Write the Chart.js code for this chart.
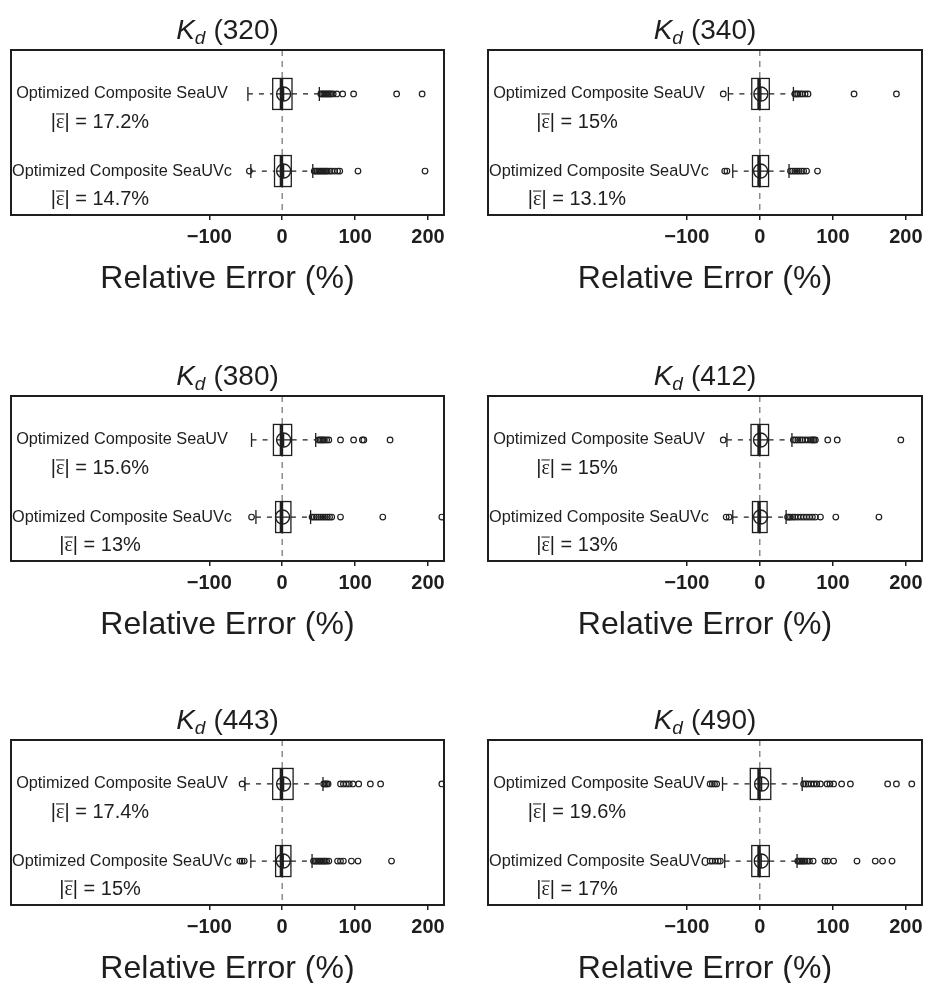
<!DOCTYPE html>
<html>
<head>
<meta charset="utf-8">
<script src="https://cdn.jsdelivr.net/npm/chart.js@4.4.0/dist/chart.umd.min.js"></script>
<style>
  body { margin: 0; background: #fff; width: 925px; height: 983px; position: relative; overflow: hidden; }
  canvas { position: absolute; }
</style>
</head>
<body>
<canvas id="p0"></canvas>
<canvas id="p1"></canvas>
<canvas id="p2"></canvas>
<canvas id="p3"></canvas>
<canvas id="p4"></canvas>
<canvas id="p5"></canvas>
<script>
// values: one entry per panel, [SeaUV, SeaUVc] inside
const wavelengths = ['320', '340', '380', '412', '443', '490'];
const methods = ['Optimized Composite SeaUV', 'Optimized Composite SeaUVc'];
const meanAbsError = [[17.2, 14.7], [15, 13.1], [15.6, 13], [15, 13], [17.4, 15], [19.6, 17]];
const lowerWhisker = [[-47, -43], [-43, -37], [-42, -36], [-45, -37], [-51, -43], [-51, -48]];
const lowerQuartile = [[-13, -10.5], [-11, -10], [-12, -9], [-12, -10], [-13, -9], [-13, -11]];
const medianError = [[-1, -1], [-1, -1], [-1, -1], [-1, -1], [-1, -1], [-1, -1]];
const upperQuartile = [[13.5, 12.5], [13, 12], [13, 12], [12, 10], [15, 12], [15, 13]];
const upperWhisker = [[51, 42], [46, 40], [46, 39], [44, 36], [56, 41], [58, 51]];
const meanError = [[2, 2], [1.5, 1], [2, 0.5], [1, 1], [2, 1.5], [2.5, 2]];
const outliers = [
  [[53, 55, 57, 59, 61, 63, 65, 67, 70, 75, 83, 98, 157, 192],
   [-45, 44, 46, 48, 50, 52, 54, 56, 58, 60, 62, 65, 68, 72, 76, 79, 104, 196]],
  [[-50, 48, 50, 52, 55, 58, 62, 66, 129, 187],
   [-48, -45, 42, 45, 48, 51, 54, 57, 60, 64, 79]],
  [[50, 52, 54, 56, 58, 61, 64, 80, 98, 110, 112, 148],
   [-42, 41, 44, 47, 50, 53, 56, 59, 62, 65, 68, 80, 138, 219]],
  [[-50, 46, 49, 52, 55, 58, 62, 66, 70, 72, 74, 76, 93, 106, 193],
   [-46, -42, 38, 40, 42, 45, 48, 52, 56, 60, 64, 68, 72, 76, 83, 104, 163]],
  [[-55, 57, 59, 61, 63, 80, 84, 88, 92, 97, 105, 121, 135, 219],
   [-58, -55, -52, 43, 45, 47, 49, 51, 53, 55, 57, 59, 61, 64, 76, 80, 84, 95, 104, 150]],
  [[-68, -65, -62, -59, 60, 63, 66, 70, 74, 78, 83, 92, 96, 101, 112, 124, 175, 187, 208],
   [-68, -65, -61, -57, -54, 52, 54, 56, 58, 60, 62, 65, 68, 73, 89, 93, 101, 133, 158, 168, 181]]
];
const xTicks = [-100, 0, 100, 200];
const xRange = [-372, 222];
const rowY = [2, 1]; // SeaUV on top, SeaUVc below

const SANS = "'Liberation Sans', Arial, Helvetica, sans-serif";
const SERIF = "'Liberation Serif', 'DejaVu Serif', serif";
const ink = '#1e1e1e';
const boxHalf = 15.5;

Chart.defaults.font.family = SANS;
Chart.defaults.color = ink;

// box, median, zero line, frame and the text drawn inside each panel
const boxPlot = {
  id: 'boxPlot',
  beforeDatasetsDraw(chart, args, opts) {
    const { ctx, chartArea: a, scales: { x, y } } = chart;
    const p = opts.panel;
    ctx.save();
    const x0 = x.getPixelForValue(0);
    ctx.strokeStyle = '#6e6e6e';
    ctx.lineWidth = 1.2;
    ctx.setLineDash([6, 5]);
    ctx.beginPath(); ctx.moveTo(x0, a.top); ctx.lineTo(x0, a.bottom); ctx.stroke();
    ctx.setLineDash([]);
    ctx.strokeStyle = ink;
    rowY.forEach((rv, m) => {
      const yp = y.getPixelForValue(rv);
      const l = x.getPixelForValue(lowerQuartile[p][m]);
      const r = x.getPixelForValue(upperQuartile[p][m]);
      ctx.lineWidth = 1.3;
      ctx.strokeRect(l, yp - boxHalf, r - l, boxHalf * 2);
      const mx = x.getPixelForValue(medianError[p][m]);
      ctx.lineWidth = 3.5;
      ctx.beginPath(); ctx.moveTo(mx, yp - boxHalf); ctx.lineTo(mx, yp + boxHalf); ctx.stroke();
    });
    ctx.restore();
  },
  afterDraw(chart, args, opts) {
    const { ctx, chartArea: a, scales: { y } } = chart;
    const p = opts.panel;
    ctx.save();
    // frame
    ctx.strokeStyle = ink;
    ctx.lineWidth = 2;
    ctx.strokeRect(a.left, a.top, a.right - a.left, a.bottom - a.top);

    // title  K_d (320)
    ctx.fillStyle = ink;
    ctx.textBaseline = 'alphabetic';
    ctx.textAlign = 'left';
    const fK = 'italic 28px ' + SANS, fSub = 'italic 19px ' + SANS, fNum = '28px ' + SANS;
    const num = '(' + wavelengths[p] + ')';
    ctx.font = fK; const wK = ctx.measureText('K').width;
    ctx.font = fSub; const wD = ctx.measureText('d').width;
    ctx.font = fNum; const wN = ctx.measureText(num).width;
    const gap = 8;
    let tx = (a.left + a.right) / 2 - (wK + wD + gap + wN) / 2;
    const base = a.top - 11;
    ctx.font = fK; ctx.fillText('K', tx, base); tx += wK;
    ctx.font = fSub; ctx.fillText('d', tx, base + 5); tx += wD + gap;
    ctx.font = fNum; ctx.fillText(num, tx, base);

    // method names and mean absolute error
    methods.forEach((name, m) => {
      const yp = y.getPixelForValue(rowY[m]);
      ctx.font = '16.3px ' + SANS;
      ctx.textAlign = 'center';
      ctx.textBaseline = 'middle';
      ctx.fillText(name, a.left + 111, yp);

      const tail = '| = ' + meanAbsError[p][m] + '%';
      ctx.textAlign = 'left';
      ctx.textBaseline = 'alphabetic';
      ctx.font = '20px ' + SANS; const wBar = ctx.measureText('|').width; const wTail = ctx.measureText(tail).width;
      ctx.font = '20px ' + SERIF; const wEps = ctx.measureText('ε').width;
      let ex = a.left + 89 - (wBar + wEps + wTail) / 2;
      const eb = yp + 34;
      ctx.font = '20px ' + SANS; ctx.fillText('|', ex, eb); ex += wBar;
      ctx.font = '20px ' + SERIF; ctx.fillText('ε', ex, eb);
      ctx.lineWidth = 1;
      ctx.beginPath(); ctx.moveTo(ex, eb - 14); ctx.lineTo(ex + wEps, eb - 14); ctx.stroke();
      ex += wEps;
      ctx.font = '20px ' + SANS; ctx.fillText(tail, ex, eb);
    });
    ctx.restore();
  }
};

function datasetsFor(p) {
  const ds = [];
  rowY.forEach((yv, m) => {
    const line = { showLine: true, borderColor: ink, borderWidth: 1.2, borderDash: [5, 6], pointRadius: 0 };
    ds.push(Object.assign({ data: [{ x: lowerWhisker[p][m], y: yv }, { x: lowerQuartile[p][m], y: yv }] }, line));
    ds.push(Object.assign({ data: [{ x: upperQuartile[p][m], y: yv }, { x: upperWhisker[p][m], y: yv }] }, line));
    ds.push({
      data: [{ x: lowerWhisker[p][m], y: yv }, { x: upperWhisker[p][m], y: yv }],
      pointStyle: 'line', rotation: 90, pointRadius: 7, borderWidth: 1.3, borderColor: ink
    });
    ds.push({
      data: [{ x: meanError[p][m], y: yv }],
      pointStyle: 'circle', pointRadius: 7, borderWidth: 1.4, borderColor: ink, backgroundColor: 'rgba(0,0,0,0)'
    });
    ds.push({
      data: [{ x: meanError[p][m], y: yv }],
      pointStyle: 'cross', pointRadius: 7, borderWidth: 1.3, borderColor: ink
    });
    ds.push({
      data: outliers[p][m].map(v => ({ x: v, y: yv })),
      pointStyle: 'circle', pointRadius: 2.8, borderWidth: 1.2, borderColor: ink,
      backgroundColor: 'rgba(0,0,0,0)', clip: 0
    });
  });
  return ds;
}

const tops = [0, 346, 690];
wavelengths.forEach((w, p) => {
  const col = p % 2, row = Math.floor(p / 2);
  const cv = document.getElementById('p' + p);
  cv.width = col === 0 ? 460 : 480; cv.height = 298;
  cv.style.left = (col === 0 ? 0 : 460) + 'px';
  cv.style.top = tops[row] + 'px';
  new Chart(cv, {
    type: 'scatter',
    data: { datasets: datasetsFor(p) },
    plugins: [boxPlot],
    options: {
      responsive: false,
      animation: false,
      events: [],
      layout: { padding: { top: 50, bottom: 0, left: col === 0 ? 11 : 28, right: col === 0 ? 16 : 18 } },
      plugins: { legend: { display: false }, tooltip: { enabled: false }, boxPlot: { panel: p } },
      scales: {
        x: {
          type: 'linear', min: xRange[0], max: xRange[1],
          afterBuildTicks: s => { s.ticks = xTicks.map(v => ({ value: v })); },
          afterFit: s => { s.height = 83; },
          grid: { drawOnChartArea: false, drawTicks: true, tickLength: 5, color: ink, lineWidth: 1.5 },
          border: { display: false },
          ticks: {
            padding: 5, color: ink, maxRotation: 0,
            font: { size: 20, weight: 'bold' },
            callback: v => (v < 0 ? '\u2212' + Math.abs(v) : String(v))
          },
          title: { display: true, text: 'Relative Error (%)', font: { size: 32 }, color: ink, padding: { top: 0, bottom: 0 } }
        },
        y: { type: 'linear', min: 0.43, max: 2.57, display: false }
      }
    }
  });
});
</script>
</body>
</html>
